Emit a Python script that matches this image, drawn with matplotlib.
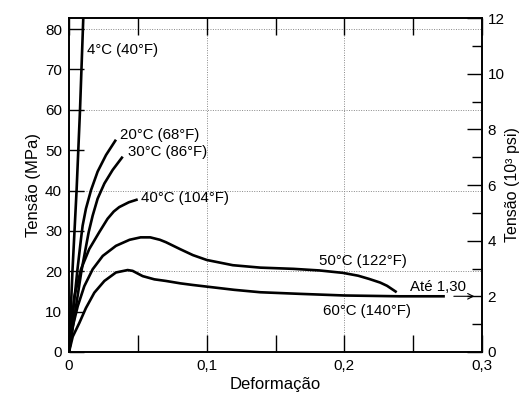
import matplotlib
matplotlib.use('Agg')
import matplotlib.pyplot as plt
from matplotlib.ticker import MultipleLocator, FuncFormatter

plt.rcParams['font.family'] = ['Liberation Sans', 'DejaVu Sans']

# ---- Data (strain, stress in MPa) ----

strain_4 = [0, 0.0025, 0.0055, 0.008, 0.0104]
stress_4 = [0, 20, 40, 60, 83]

strain_20 = [0, 0.003, 0.006, 0.0087, 0.0099, 0.0123, 0.016, 0.0208, 0.0269, 0.0341]
stress_20 = [0, 10, 20, 28, 31.3, 35.5, 40.1, 44.7, 48.8, 52.6]

strain_30 = [0, 0.0045, 0.009, 0.0143, 0.0172, 0.0208, 0.0257, 0.0317, 0.039]
stress_30 = [0, 10, 20, 29.7, 33.8, 38, 41.75, 45.1, 48.4]

strain_40 = [0, 0.0015, 0.0039, 0.0087, 0.0147, 0.022, 0.028, 0.0325, 0.0365, 0.0435, 0.0499]
stress_40 = [0, 6, 13.8, 20.5, 25.5, 29.7, 33.0, 34.8, 35.9, 37.1, 37.8]

strain_50 = [0, 0.0027, 0.0063, 0.0111, 0.0172, 0.0245, 0.0341, 0.044, 0.052,
             0.059, 0.066, 0.0704, 0.0806, 0.09, 0.1, 0.119, 0.139, 0.163,
             0.182, 0.199, 0.21, 0.218, 0.226, 0.231, 0.238]
stress_50 = [0, 6.3, 11.3, 16.3, 20.5, 23.8, 26.3, 27.8, 28.4,
             28.4, 27.8, 27.2, 25.5, 24, 22.8, 21.5, 20.9, 20.6,
             20.2, 19.6, 18.9, 18.1, 17.2, 16.4, 14.8]

strain_60 = [0, 0.0027, 0.0075, 0.0123, 0.0184, 0.0257, 0.0341, 0.0426, 0.0462,
             0.0535, 0.062, 0.0704, 0.081, 0.09, 0.1, 0.12, 0.139, 0.168,
             0.2, 0.24, 0.273]
stress_60 = [0, 3.8, 7.2, 10.9, 14.7, 17.6, 19.7, 20.3, 20.1,
             18.8, 18, 17.6, 17.0, 16.6, 16.2, 15.4, 14.8, 14.4,
             14.0, 13.8, 13.8]

curve_labels = ['4°C (40°F)', '20°C (68°F)', '30°C (86°F)', '40°C (104°F)',
                '50°C (122°F)', '60°C (140°F)']
label_x = [0.0131, 0.037, 0.0428, 0.0525, 0.1815, 0.1845]
label_y = [74.8, 53.8, 49.5, 38.2, 22.5, 10.2]

MPA_PER_KSI = 6.895
KSI_MAX = 12


def comma(v, pos):
    if abs(v) < 1e-9:
        return '0'
    return f'{v:.1f}'.replace('.', ',')


fig = plt.figure(figsize=(5.2, 3.94), dpi=100)
ax = fig.add_axes([0.1327, 0.1066, 0.7943, 0.8477])

curves = [(strain_4, stress_4), (strain_20, stress_20), (strain_30, stress_30),
          (strain_40, stress_40), (strain_50, stress_50), (strain_60, stress_60)]
for xs, ys in curves:
    ax.plot(xs, ys, color='black', linewidth=1.9, solid_capstyle='butt',
            solid_joinstyle='round', zorder=3)

for txt, lx, ly in zip(curve_labels, label_x, label_y):
    ax.text(lx, ly, txt, fontsize=10.8, va='center', ha='left', zorder=4)

# arrow "Até 1,30"
ax.annotate('', xy=(0.2965, 13.8), xytext=(0.2775, 13.8),
            arrowprops=dict(arrowstyle='->', color='black', lw=0.8))
ax.text(0.2476, 16.0, 'Até 1,30', fontsize=10.8, va='center', ha='left')

ax.set_xlim(0, 0.3)
ax.set_ylim(0, KSI_MAX * MPA_PER_KSI)

ax.xaxis.set_major_locator(MultipleLocator(0.1))
ax.xaxis.set_minor_locator(MultipleLocator(0.05))
ax.xaxis.set_major_formatter(FuncFormatter(comma))
ax.yaxis.set_major_locator(MultipleLocator(10))

ax.tick_params(axis='x', which='both', direction='in', length=12, width=1.0,
               top=True, labelsize=11, pad=5)
ax.tick_params(axis='y', which='major', direction='in', length=11, width=1.0,
               labelsize=11, pad=5)

# grid lines at 20/40/60/80 MPa and 0.1/0.2
for gy in [20, 40, 60, 80]:
    ax.axhline(gy, color='#888888', linestyle=(0, (1, 1.5)), linewidth=0.7, zorder=1)
for gx in [0.1, 0.2]:
    ax.axvline(gx, color='#888888', linestyle=(0, (1, 1.5)), linewidth=0.7, zorder=1)

for sp in ax.spines.values():
    sp.set_linewidth(1.2)

ax.set_xlabel('Deformação', fontsize=12, labelpad=3)
ax.set_ylabel('Tensão (MPa)', fontsize=12, labelpad=3)

ax2 = ax.twinx()
ax2.set_ylim(0, KSI_MAX)
ax2.yaxis.set_major_locator(MultipleLocator(2))
ax2.yaxis.set_minor_locator(MultipleLocator(1))
ax2.tick_params(axis='y', which='major', direction='in', length=11, width=1.0,
                labelsize=11, pad=4)
ax2.tick_params(axis='y', which='minor', direction='in', length=7, width=1.0)
ax2.set_ylabel('Tensão (10³ psi)', fontsize=11.5, labelpad=0)
for sp in ax2.spines.values():
    sp.set_linewidth(1.2)

fig.savefig('out.png', dpi=100)
